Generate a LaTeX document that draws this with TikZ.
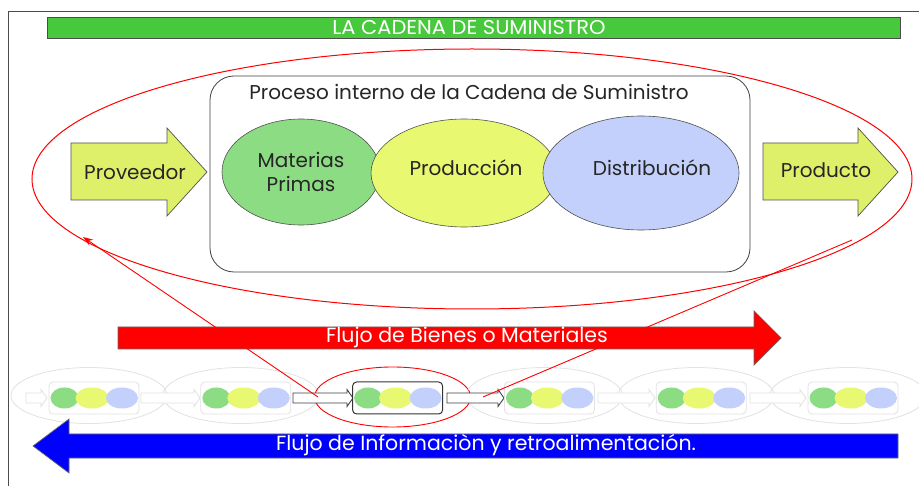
\documentclass[tikz,border=0pt]{standalone}
\usepackage{fontspec}
\setmainfont{Poppins}
\usetikzlibrary{arrows.meta,shapes.geometric}
\definecolor{titlegreen}{HTML}{48C83C}
\definecolor{arrowyel}{HTML}{DEF06A}
\definecolor{matgreen}{HTML}{8CDC84}
\definecolor{prodyel}{HTML}{E8F870}
\definecolor{distblue}{HTML}{C4D0FC}
\definecolor{faint}{HTML}{E2E2E2}
\definecolor{edge}{HTML}{505050}
\tikzset{
  bigtext/.style={font=\fontsize{20}{24}\selectfont, text=black!85},
  blob/.style={ellipse, draw=edge, line width=0.6, inner sep=0},
  fatarrow/.style={draw=edge, line width=0.7},
  minidot/.style={ellipse, inner sep=0, minimum height=21},
  fainttrk/.style={fill=white, draw=faint, line width=0.8},
  darktrk/.style={fill=white, draw=black!75, line width=0.9},
  redline/.style={draw=red, line width=0.9},
}
\begin{document}
\begin{tikzpicture}[x=1pt,y=-1pt]
\useasboundingbox (0,0) rectangle (919,486);
\fill[white] (0,0) rectangle (919,486);
% frame
\draw[black!70, line width=1] (8,486) -- (8,12) -- (919,12);
% title bar
\node[fill=titlegreen, draw=black!70, line width=0.6, minimum width=853, minimum height=21, inner sep=0] (title) at (473.5,27.5) {};
\node[text=white, font=\fontsize{20}{24}\selectfont] (titletxt) at (469,27.5) {\scalebox{1.05}[1]{LA CADENA DE SUMINISTRO}};
% big red ellipse
\node[ellipse, draw=red, line width=1, minimum width=880, minimum height=260, inner sep=0] (big) at (472,179) {};
% process box
\node[draw=black!75, line width=0.8, rounded corners=24, minimum width=540, minimum height=196, inner sep=0] (proc) at (480,174) {};
\node[bigtext] (proctitle) at (469,92) {Proceso interno de la Cadena de Suministro};
% three ellipses
\node[blob, fill=matgreen, minimum width=158, minimum height=106] (mat) at (301,172) {};
\node[blob, fill=prodyel, minimum width=186, minimum height=108] (prod) at (464,173) {};
\node[blob, fill=distblue, minimum width=196, minimum height=114] (dist) at (641,173) {};
\node[bigtext, align=center] (mattxt) at (301,172) {Materias\\Primas};
\node[bigtext] (prodtxt) at (466,168) {Producción};
\node[bigtext] (disttxt) at (652,168) {Distribución};
% Proveedor / Producto arrows
\draw[fatarrow, fill=arrowyel] (71,143) -- (167,143) -- (167,128) -- (207,172) -- (167,216) -- (167,200) -- (71,200) -- cycle;
\node[bigtext] (prov) at (135,172) {Proveedor};
\draw[fatarrow, fill=arrowyel] (763,143) -- (858,143) -- (858,128) -- (898,172) -- (858,216) -- (858,200) -- (763,200) -- cycle;
\node[bigtext] (produ) at (826,170) {Producto};
% red flow arrow
\draw[fatarrow, draw=black!60, fill=red] (118,327) -- (754,327) -- (754,311) -- (781,338) -- (754,365) -- (754,349) -- (118,349) -- cycle;
\node[text=white, font=\fontsize{20.5}{24}\selectfont] (redtxt) at (467,337) {Flujo de Bienes o Materiales};
% bottom units
\foreach \i in {0,...,5} {
  \pgfmathsetmacro{\L}{49+151.8*\i}
  \ifnum\i=2\relax
    \node[ellipse, draw=red, line width=0.9, minimum width=156, minimum height=60, inner sep=0] (ring\i) at (\L+40,397) {};
  \else
    \node[ellipse, draw=faint, line width=0.8, minimum width=156, minimum height=56, inner sep=0] (ring\i) at (\L+40,395.5) {};
  \fi
}
% connector arrows between units
\foreach \a/\b/\s in {26/47/fainttrk, 141/200/fainttrk, 293/353/darktrk, 447/504/darktrk, 598/655/fainttrk, 750/806/fainttrk} {
  \draw[\s] (\a,393) -- (\b-6,393) -- (\b-6,389.5) -- (\b,398) -- (\b-6,406.5) -- (\b-6,403) -- (\a,403) -- cycle;
}
\foreach \i in {0,...,5} {
  \pgfmathsetmacro{\L}{49+151.8*\i}
  \ifnum\i=2\relax
    \node[draw=black!80, line width=1, rounded corners=4, minimum width=90, minimum height=32, inner sep=0, fill=white] (box\i) at (\L+45,398) {};
  \else
    \node[draw=faint, line width=0.8, rounded corners=4, minimum width=90, minimum height=32, inner sep=0, fill=white] (box\i) at (\L+45,398) {};
  \fi
  \node[minidot, fill=matgreen, minimum width=28] (g\i) at (\L+15.5,398) {};
  \node[minidot, fill=prodyel, minimum width=33] (y\i) at (\L+43,398) {};
  \node[minidot, fill=distblue, minimum width=32] (b\i) at (\L+73,398) {};
}
% red connector lines
\coordinate (inpt) at (318,397);
\coordinate (outpt) at (483,397);
\coordinate (bigL) at (83,237);
\coordinate (bigR) at (852,240);
\draw[redline, -{Stealth[length=10pt,width=7pt]}] (inpt) -- (bigL);
\draw[redline] (outpt) -- (bigR);
% blue flow arrow
\draw[draw=black!60, line width=0.7, fill=blue] (33,446) -- (69,419) -- (69,434) -- (898,434) -- (898,458) -- (69,458) -- (69,473) -- cycle;
\node[text=white, font=\fontsize{20.5}{24}\selectfont] (bluetxt) at (486,445) {Flujo de Informaciòn y retroalimentación.};
\end{tikzpicture}
\end{document}
